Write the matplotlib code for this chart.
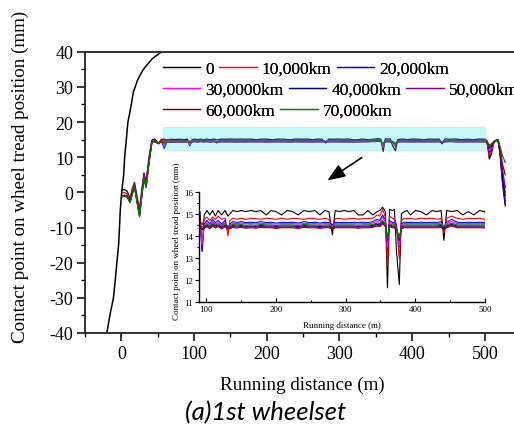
import matplotlib
matplotlib.use('Agg')
import matplotlib.pyplot as plt
from matplotlib.patches import Rectangle
from matplotlib.ticker import MultipleLocator

plt.rcParams['font.family'] = ['Liberation Serif', 'DejaVu Serif']
plt.rcParams['axes.unicode_minus'] = False

# wheel tread profile (black curve on the left)
profile_x = [-20, -15.8, -10.9, -8.4, -6.2, -3.8, -2.6, -1.5, 0.4, 3.2, 4.5, 6.8, 9, 11.4, 13.7, 16.5, 22.4, 25.6, 30.3, 42.5, 55.5]
profile_y = [-40, -35, -30, -25, -20, -15, -10, -5, 0, 5, 10, 15, 20, 22.5, 25, 28.5, 32, 33.3, 35, 38, 40]

# running distance (m), shared by all mileage series
dist = [1, 4, 8, 12, 15, 18, 21, 25, 28, 31, 34, 38, 42, 46, 51, 55, 59, 63, 68, 74, 80, 86,
        91, 94, 97, 101, 105, 109, 113, 117, 122, 127, 131, 134, 138, 144, 150, 157, 164, 171,
        178, 186, 193, 200, 208, 216, 224, 232, 240, 248, 256, 263, 270, 276, 281, 285, 291,
        298, 305, 312, 318, 325, 332, 339, 345, 349, 353, 357, 360, 363, 367, 370, 373, 377,
        380, 384, 388, 393, 400, 408, 416, 424, 431, 437, 441, 445, 452, 460, 468, 476, 484,
        492, 500,
        503, 506, 509, 512, 515, 518, 521, 524, 528]

y_0 = [0.6, 0.8, 0.3, -1.8, 1.0, 2.8, -0.5, -5.0, 0.5, 5.5, 3.0, 10.0, 14.9, 15.1, 14.0, 15.0, 15.1, 14.9, 15.1, 15.0, 15.1, 15.0,
       15.1, 13.3, 14.95, 15.15, 14.95, 15.15, 14.9, 15.15, 14.95, 15.15, 14.9, 15.0, 15.15, 15.1, 15.15, 15.1, 15.15, 15.1,
       15.15, 14.95, 15.15, 15.1, 14.95, 15.15, 15.1, 14.95, 15.15, 15.1, 15.15, 14.95, 15.15, 15.1, 14.05, 15.15, 15.1,
       15.15, 15.1, 15.15, 14.95, 14.95, 15.15, 14.95, 15.1, 15.15, 15.3, 15.1, 11.65, 15.2, 15.15, 15.2, 13.3, 11.8,
       15.0, 15.1, 15.15, 14.95, 15.15, 15.1, 14.95, 15.15, 15.1, 15.15, 13.8, 15.15, 15.1, 15.15, 14.95, 15.1, 14.95,
       15.15, 15.1,
       14.6, 9.5, 11.0, 14.0, 14.8, 14.9, 10.5, 3.0, -3.8]

y_10k = [-0.2, 0.0, -0.5, -2.2, 0.5, 2.5, -1.0, -5.5, 0.0, 5.0, 2.5, 9.5, 14.7, 14.8, 14.0, 14.8, 14.7, 14.8, 14.8, 14.7, 14.8, 14.8,
         14.7, 14.5, 14.75, 14.85, 14.7, 14.85, 14.75, 14.9, 14.75, 14.8, 14.0, 14.7, 14.8, 14.75, 14.8, 14.75, 14.8, 14.78,
         14.75, 14.8, 14.78, 14.75, 14.8, 14.75, 14.8, 14.78, 14.75, 14.8, 14.78, 14.75, 14.8, 14.75, 14.4, 14.78, 14.8,
         14.75, 14.78, 14.8, 14.75, 14.8, 14.78, 14.8, 14.95, 14.9, 15.2, 14.85, 12.65, 14.9, 14.8, 14.75, 14.5, 12.95,
         14.7, 14.8, 14.78, 14.8, 14.75, 14.8, 14.78, 14.8, 14.75, 14.8, 14.15, 14.8, 14.9, 14.8, 14.75, 14.8, 14.78,
         14.8, 14.75,
         14.2, 10.5, 11.5, 14.0, 14.8, 14.8, 11.0, 4.0, -2.5]

y_20k = [-1.0, -0.8, -1.0, -2.5, 0.0, 2.0, -1.5, -6.0, -0.5, 4.5, 2.0, 9.0, 14.5, 14.6, 13.8, 14.6, 12.5, 14.6, 14.6, 14.5, 14.6, 14.6,
         14.6, 13.35, 14.55, 14.7, 14.55, 14.75, 14.6, 14.7, 14.55, 14.7, 14.3, 14.55, 14.65, 14.6, 14.65, 14.6, 14.62, 14.6,
         14.65, 14.6, 14.62, 14.58, 14.62, 14.6, 14.62, 14.58, 14.65, 14.6, 14.62, 14.58, 14.62, 14.6, 14.5, 14.62, 14.6,
         14.62, 14.6, 14.62, 14.6, 14.62, 14.6, 14.65, 14.75, 14.7, 14.95, 14.7, 13.4, 14.7, 14.62, 14.6, 14.4, 13.5,
         14.55, 14.62, 14.6, 14.62, 14.6, 14.62, 14.6, 14.62, 14.6, 14.65, 14.4, 14.62, 14.75, 14.62, 14.6, 14.62, 14.6,
         14.62, 14.6,
         14.2, 11.4, 12.0, 14.2, 14.7, 14.8, 11.5, 3.5, -3.5]

y_30k = [-1.0, -0.8, -1.2, -2.6, -0.2, 2.0, -1.5, -6.2, -0.5, 4.5, 2.0, 9.0, 14.5, 14.6, 13.8, 14.5, 13.5, 14.5, 14.5, 14.5, 14.5, 14.5,
         14.55, 13.6, 14.5, 14.6, 14.5, 14.65, 14.55, 14.6, 14.5, 14.6, 14.4, 14.5, 14.58, 14.55, 14.58, 14.55, 14.56, 14.54,
         14.57, 14.55, 14.56, 14.53, 14.56, 14.55, 14.56, 14.53, 14.57, 14.55, 14.56, 14.53, 14.56, 14.55, 14.45, 14.56, 14.55,
         14.56, 14.55, 14.56, 14.54, 14.56, 14.55, 14.58, 14.65, 14.62, 14.85, 14.62, 13.5, 14.62, 14.56, 14.55, 14.35, 13.55,
         14.5, 14.56, 14.55, 14.56, 14.55, 14.56, 14.55, 14.56, 14.55, 14.58, 14.4, 14.56, 14.65, 14.56, 14.55, 14.56, 14.55,
         14.56, 14.55,
         14.3, 12.0, 12.5, 14.3, 14.7, 14.8, 12.0, 6.0, 0.0]

y_40k = [-1.1, -0.9, -1.2, -2.6, -0.3, 2.0, -1.8, -6.5, -0.8, 4.2, 1.8, 8.8, 14.4, 14.5, 13.9, 14.4, 14.0, 14.4, 14.4, 14.4, 14.4, 14.4,
         14.45, 14.3, 14.42, 14.5, 14.4, 14.52, 14.45, 14.5, 14.4, 14.5, 14.38, 14.4, 14.47, 14.45, 14.47, 14.43, 14.45, 14.43,
         14.47, 14.45, 14.45, 14.42, 14.45, 14.45, 14.45, 14.42, 14.47, 14.45, 14.45, 14.42, 14.45, 14.45, 14.38, 14.45, 14.45,
         14.45, 14.45, 14.45, 14.43, 14.45, 14.45, 14.47, 14.53, 14.5, 14.65, 14.5, 13.8, 14.5, 14.45, 14.45, 14.3, 13.8,
         14.4, 14.45, 14.45, 14.45, 14.45, 14.45, 14.45, 14.45, 14.45, 14.47, 14.35, 14.45, 14.53, 14.45, 14.45, 14.45, 14.45,
         14.45, 14.45,
         14.3, 12.5, 13.0, 14.3, 14.7, 14.8, 11.5, 5.0, -1.0]

y_50k = [-1.2, -1.0, -1.3, -2.7, -0.4, 1.9, -1.9, -6.6, -0.9, 4.1, 1.7, 8.7, 14.4, 14.4, 13.9, 14.4, 14.3, 14.4, 14.4, 14.3, 14.4, 14.4,
         14.4, 14.3, 14.38, 14.46, 14.36, 14.48, 14.4, 14.46, 14.36, 14.45, 14.35, 14.36, 14.43, 14.4, 14.43, 14.39, 14.41, 14.39,
         14.43, 14.41, 14.41, 14.38, 14.41, 14.41, 14.41, 14.38, 14.43, 14.41, 14.41, 14.38, 14.41, 14.41, 14.35, 14.41, 14.41,
         14.41, 14.41, 14.41, 14.39, 14.41, 14.41, 14.43, 14.49, 14.46, 14.6, 14.46, 13.85, 14.46, 14.41, 14.41, 14.28, 13.85,
         14.36, 14.41, 14.41, 14.41, 14.41, 14.41, 14.41, 14.41, 14.41, 14.43, 14.32, 14.41, 14.49, 14.41, 14.41, 14.41, 14.41,
         14.41, 14.4,
         14.3, 12.5, 13.0, 14.3, 14.7, 14.8, 12.0, 6.5, 1.5]

y_60k = [-1.3, -1.1, -1.4, -2.9, -0.6, 1.7, -2.1, -6.9, -1.1, 3.9, 1.4, 8.4, 14.3, 14.4, 14.0, 14.3, 14.3, 14.3, 14.3, 14.3, 14.3, 14.3,
         14.36, 14.28, 14.34, 14.42, 14.32, 14.44, 14.36, 14.42, 14.32, 14.41, 14.32, 14.32, 14.39, 14.36, 14.39, 14.35, 14.37, 14.35,
         14.39, 14.37, 14.37, 14.34, 14.37, 14.37, 14.37, 14.34, 14.39, 14.37, 14.37, 14.34, 14.37, 14.37, 14.32, 14.37, 14.37,
         14.37, 14.37, 14.37, 14.35, 14.37, 14.37, 14.39, 14.45, 14.42, 14.55, 14.42, 13.9, 14.42, 14.37, 14.37, 14.25, 13.9,
         14.32, 14.37, 14.37, 14.37, 14.37, 14.37, 14.37, 14.37, 14.37, 14.39, 14.3, 14.37, 14.45, 14.37, 14.37, 14.37, 14.37,
         14.37, 14.36,
         14.4, 13.0, 13.5, 14.4, 14.7, 14.9, 12.5, 8.0, 5.0]

y_70k = [-1.2, -1.0, -1.4, -2.8, -0.5, 1.8, -2.0, -6.8, -1.0, 4.0, 1.5, 8.5, 14.4, 14.5, 14.0, 14.5, 14.4, 14.5, 14.5, 14.4, 14.5, 14.5,
         14.5, 14.4, 14.45, 14.55, 14.45, 14.58, 14.5, 14.55, 14.45, 14.55, 14.45, 14.45, 14.52, 14.5, 14.52, 14.48, 14.5, 14.48,
         14.52, 14.5, 14.5, 14.47, 14.5, 14.5, 14.5, 14.47, 14.52, 14.5, 14.5, 14.47, 14.5, 14.5, 14.42, 14.5, 14.5,
         14.5, 14.5, 14.5, 14.48, 14.5, 14.5, 14.52, 14.58, 14.55, 14.7, 14.55, 13.9, 14.55, 14.5, 14.5, 14.35, 13.9,
         14.45, 14.5, 14.5, 14.5, 14.5, 14.5, 14.5, 14.5, 14.5, 14.52, 14.4, 14.5, 14.58, 14.5, 14.5, 14.5, 14.5,
         14.5, 14.5,
         14.5, 13.5, 13.8, 14.5, 14.8, 15.0, 13.0, 10.5, 8.5]

series = [y_0, y_10k, y_20k, y_30k, y_40k, y_50k, y_60k, y_70k]
labels = ['0', '10,000km', '20,000km', '30,0000km', '40,000km', '50,000km', '60,000km', '70,000km']
colors = ['#000000', '#FF0000', '#0000FF', '#FF00FF', '#000080', '#800080', '#800000', '#008000']

fig = plt.figure(figsize=(5.14, 4.27), dpi=100)
ax = fig.add_axes([0.1654, 0.2178, 0.8346, 0.6588])

ax.plot(profile_x, profile_y, color='k', lw=1.1)
handles = []
for ys, lab, c in zip(series, labels, colors):
    h, = ax.plot(dist, ys, color=c, lw=0.9, label=lab)
    handles.append(h)

ax.set_xlim(-50, 540)
ax.set_ylim(-40, 40)
ax.xaxis.set_major_locator(MultipleLocator(100))
ax.xaxis.set_minor_locator(MultipleLocator(50))
ax.yaxis.set_major_locator(MultipleLocator(10))
ax.yaxis.set_minor_locator(MultipleLocator(5))
ax.tick_params(which='major', direction='out', length=5.5, width=1.1, labelsize=13, pad=3)
ax.tick_params(which='minor', direction='out', length=3, width=1.0)
ax.spines['right'].set_visible(False)
for s in ['left', 'bottom', 'top']:
    ax.spines[s].set_linewidth(1.3)
    ax.spines[s].set_color('#222222')

ax.set_xlabel('Running distance (m)', fontsize=13.7)
ax.set_ylabel('Contact point on wheel tread position (mm)', fontsize=13.7)
ax.xaxis.set_label_coords(0.507, -0.15)
ax.yaxis.set_label_coords(-0.13, 0.56)

# highlighted zone
ax.add_patch(Rectangle((57.3, 12.13), 500 - 57.3, 18.67 - 12.13, facecolor='#00E5E5',
                       edgecolor='#66CCCC', lw=1.0, alpha=0.22, zorder=5))
ax.annotate('', xy=(280, 2.94), xytext=(333.7, 10.3),
            arrowprops=dict(arrowstyle='-|>,head_length=0.9,head_width=0.35', color='k', lw=1.2,
                            mutation_scale=12))

# legend laid out row by row
rows = [[0, 1, 2], [3, 4, 5], [6, 7]]
row_y = [0.836, 0.787, 0.738]
for r, yy in zip(rows, row_y):
    leg = fig.legend([handles[i] for i in r], [labels[i] for i in r], ncol=len(r),
                     loc='center left', bbox_to_anchor=(0.3171, yy), frameon=False,
                     fontsize=12.5, handlelength=2.15, handletextpad=0.3, columnspacing=0.3,
                     borderpad=0, borderaxespad=0)
    fig.add_artist(leg)

# inset
axi = fig.add_axes([0.3878, 0.2897, 0.5558, 0.259])
axi.patch.set_alpha(0)
for ys, c in zip(series, colors):
    axi.plot(dist, ys, color=c, lw=0.8)
axi.set_xlim(90, 500)
axi.set_ylim(11, 16)
axi.xaxis.set_major_locator(MultipleLocator(100))
axi.xaxis.set_minor_locator(MultipleLocator(50))
axi.yaxis.set_major_locator(MultipleLocator(1))
axi.yaxis.set_minor_locator(MultipleLocator(0.5))
axi.tick_params(axis='x', which='both', direction='in', labelsize=6.5, pad=2)
axi.tick_params(axis='y', which='both', direction='out', labelsize=6.5, pad=1.5)
axi.tick_params(which='major', length=3, width=0.8)
axi.tick_params(which='minor', length=1.5, width=0.7)
axi.spines['top'].set_visible(False)
axi.spines['right'].set_visible(False)
for s in ['left', 'bottom']:
    axi.spines[s].set_linewidth(1.0)
axi.set_xlabel('Running distance (m)', fontsize=6.5)
axi.set_ylabel('Contact point on wheel tread position (mm)', fontsize=6.5)
axi.xaxis.set_label_coords(0.498, -0.17)
axi.yaxis.set_label_coords(-0.064, 0.563)

fig.text(266 / 514, 1 - 413 / 427, '(a)1st wheelset', ha='center', va='center',
         style='italic', family='Lato', fontsize=18.5)

fig.savefig('out.png', dpi=100)
